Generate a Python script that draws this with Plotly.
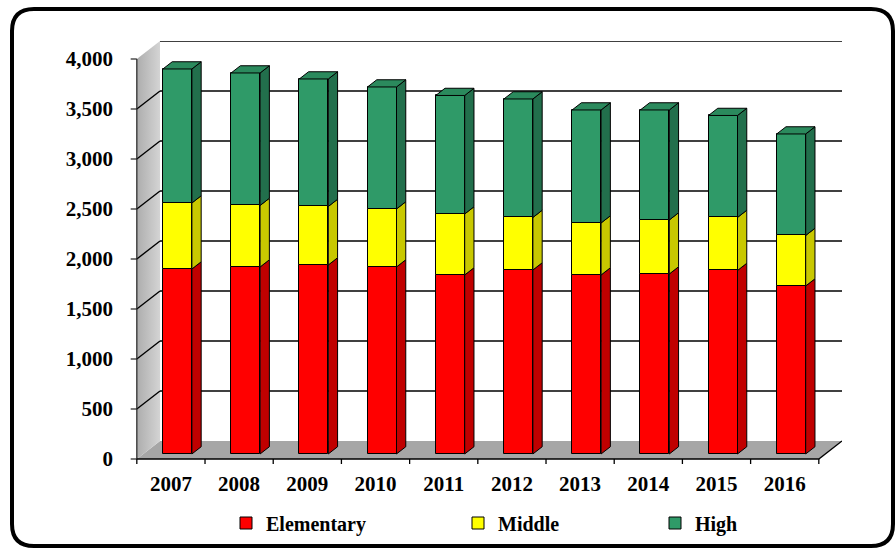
import plotly.graph_objects as go

# Enrollment by school level, 2007-2016
years = ["2007", "2008", "2009", "2010", "2011", "2012", "2013", "2014", "2015", "2016"]
elementary = [1850, 1870, 1890, 1870, 1790, 1840, 1790, 1800, 1835, 1680]
middle = [660, 615, 585, 580, 610, 525, 520, 540, 530, 505]
high = [1340, 1325, 1275, 1220, 1185, 1185, 1130, 1100, 1020, 1015]
value_ticks = [0, 500, 1000, 1500, 2000, 2500, 3000, 3500, 4000]

# name, values, front / side / top face colours
series = [
    ("Elementary", elementary, "#FF0000", "#C00000", "#E00000"),
    ("Middle", middle, "#FFFF00", "#C8C800", "#E6E600"),
    ("High", high, "#2F9A68", "#226F4C", "#2B8A5D"),
]

# oblique projection: depth vector expressed in axis units
DEPTH_X = 0.34
DEPTH_Y = 180
BAR_FRONT = 0.28   # bar front face as a fraction of floor depth
BAR_BACK = 0.68    # bar back face
BAR_W = 0.425

W, H = 896, 550
MARGIN = dict(l=130, r=54, t=41, b=86, autoexpand=False)

n = len(years)
x_lo, x_hi = -0.5, n - 0.5
v_top = value_ticks[-1]
X_RANGE = [x_lo - 0.1, x_hi + DEPTH_X]
Y_RANGE = [-50, v_top + DEPTH_Y]

SERIF = "Liberation Serif"

fig = go.Figure()

# ---- left wall with soft gray gradient
fig.add_trace(go.Scatter(
    x=[x_lo, x_lo, x_lo + DEPTH_X, x_lo + DEPTH_X, x_lo],
    y=[0, v_top, v_top + DEPTH_Y, DEPTH_Y, 0],
    mode="lines", fill="toself", line=dict(width=0, color="rgba(0,0,0,0)"),
    fillgradient=dict(type="horizontal", colorscale=[[0, "#ADADAD"], [1, "#D4D4D4"]]),
    hoverinfo="skip", showlegend=False,
))

# ---- floor and back-wall gridlines (beneath the bars)
floor_path = (f"M {x_lo},0 L {x_hi},0 L {x_hi + DEPTH_X},{DEPTH_Y} "
              f"L {x_lo + DEPTH_X},{DEPTH_Y} Z")
shapes = [dict(type="path", path=floor_path, xref="x", yref="y", layer="below",
               fillcolor="#A6A6A6", line=dict(width=0))]
for v in value_ticks[1:]:
    shapes.append(dict(type="line", xref="x", yref="y", layer="below",
                       x0=x_lo + DEPTH_X, x1=x_hi + DEPTH_X,
                       y0=v + DEPTH_Y, y1=v + DEPTH_Y,
                       line=dict(color="black", width=1.4)))

# ---- slanted gridlines across the left wall
dx, dy = [], []
for v in value_ticks[1:-1]:
    dx += [x_lo, x_lo + DEPTH_X, None]
    dy += [v, v + DEPTH_Y, None]
fig.add_trace(go.Scatter(x=dx, y=dy, mode="lines", line=dict(color="black", width=1.4),
                         hoverinfo="skip", showlegend=False))

# ---- value axis edge and tick marks
tx, ty = [x_lo, x_lo, None], [0, v_top, None]
for v in value_ticks:
    tx += [x_lo - 0.09, x_lo, None]
    ty += [v, v, None]
fig.add_trace(go.Scatter(x=tx, y=ty, mode="lines", line=dict(color="#222222", width=1.2),
                         hoverinfo="skip", showlegend=False))

# ---- category axis: front floor edge, right floor edge, boundary ticks
cx, cy = [x_lo, x_hi, x_hi + DEPTH_X, None], [0, 0, DEPTH_Y, None]
for k in range(n + 1):
    b = x_lo + k
    cx += [b, b, None]
    cy += [0, -50, None]
fig.add_trace(go.Scatter(x=cx, y=cy, mode="lines", line=dict(color="black", width=1.3),
                         hoverinfo="skip", showlegend=False))

# ---- stacked 3-D bars
fx = [i + BAR_FRONT * DEPTH_X for i in range(n)]
sdx = (BAR_BACK - BAR_FRONT) * DEPTH_X
sdy = (BAR_BACK - BAR_FRONT) * DEPTH_Y
lift = BAR_FRONT * DEPTH_Y
cum = [0] * n
legend_ids = ["legend", "legend2", "legend3"]
for k, (name, vals, c_front, c_side, c_top) in enumerate(series):
    base = [cum[i] + lift for i in range(n)]
    fig.add_trace(go.Bar(
        x=fx, y=vals, base=base, width=BAR_W, name=name,
        marker=dict(color=c_front, line=dict(color="black", width=1)),
        legend=legend_ids[k], hoverinfo="skip",
    ))
    sx, sy = [], []
    for i in range(n):
        xr = fx[i] + BAR_W / 2
        b0 = base[i]
        b1 = base[i] + vals[i]
        sx += [xr, xr + sdx, xr + sdx, xr, xr, None]
        sy += [b0, b0 + sdy, b1 + sdy, b1, b0, None]
    fig.add_trace(go.Scatter(x=sx, y=sy, mode="lines", fill="toself", fillcolor=c_side,
                             line=dict(color="black", width=1), hoverinfo="skip",
                             showlegend=False))
    cum = [cum[i] + vals[i] for i in range(n)]
    if k == len(series) - 1:
        ux, uy = [], []
        for i in range(n):
            xl = fx[i] - BAR_W / 2
            xr = fx[i] + BAR_W / 2
            t = cum[i] + lift
            ux += [xl, xr, xr + sdx, xl + sdx, xl, None]
            uy += [t, t, t + sdy, t + sdy, t, None]
        fig.add_trace(go.Scatter(x=ux, y=uy, mode="lines", fill="toself", fillcolor=c_top,
                                 line=dict(color="black", width=1), hoverinfo="skip",
                                 showlegend=False))

# ---- rounded outer frame (paper coordinates)
pw = W - MARGIN["l"] - MARGIN["r"]
ph = H - MARGIN["t"] - MARGIN["b"]


def px(xp):
    return (xp - MARGIN["l"]) / pw


def py(yp):
    return (H - MARGIN["b"] - yp) / ph


L, T, R, B, r = 12, 9, 893, 546, 22
frame = (f"M {px(L + r)},{py(T)} L {px(R - r)},{py(T)} Q {px(R)},{py(T)} {px(R)},{py(T + r)} "
         f"L {px(R)},{py(B - r)} Q {px(R)},{py(B)} {px(R - r)},{py(B)} "
         f"L {px(L + r)},{py(B)} Q {px(L)},{py(B)} {px(L)},{py(B - r)} "
         f"L {px(L)},{py(T + r)} Q {px(L)},{py(T)} {px(L + r)},{py(T)} Z")
shapes.append(dict(type="path", path=frame, xref="paper", yref="paper", layer="above",
                   line=dict(color="black", width=4)))

legend_font = dict(family=SERIF, size=20, color="black", weight="bold")
legend_y = py(523)


def legend_at(x_px):
    return dict(x=px(x_px), y=legend_y, xanchor="left", yanchor="middle",
                orientation="h", font=legend_font, bgcolor="rgba(0,0,0,0)",
                itemwidth=30, itemclick=False, itemdoubleclick=False)


fig.update_layout(
    width=W, height=H, autosize=False, margin=MARGIN,
    paper_bgcolor="white", plot_bgcolor="white",
    barmode="overlay", bargap=0,
    font=dict(family=SERIF),
    shapes=shapes,
    legend=legend_at(226), legend2=legend_at(458), legend3=legend_at(655),
    xaxis=dict(range=X_RANGE, tickmode="array", tickvals=list(range(n)), ticktext=years,
               ticks="", showgrid=False, zeroline=False, showline=False,
               ticklabelstandoff=5, fixedrange=True, automargin=False,
               tickfont=dict(family=SERIF, size=21, color="black", weight="bold")),
    yaxis=dict(range=Y_RANGE, tickmode="array", tickvals=value_ticks,
               ticktext=[f"{v:,}" for v in value_ticks],
               ticks="", showgrid=False, zeroline=False, showline=False,
               ticklabelstandoff=16, fixedrange=True, automargin=False,
               tickfont=dict(family=SERIF, size=21, color="black", weight="bold")),
)

fig.write_html("out.html")
